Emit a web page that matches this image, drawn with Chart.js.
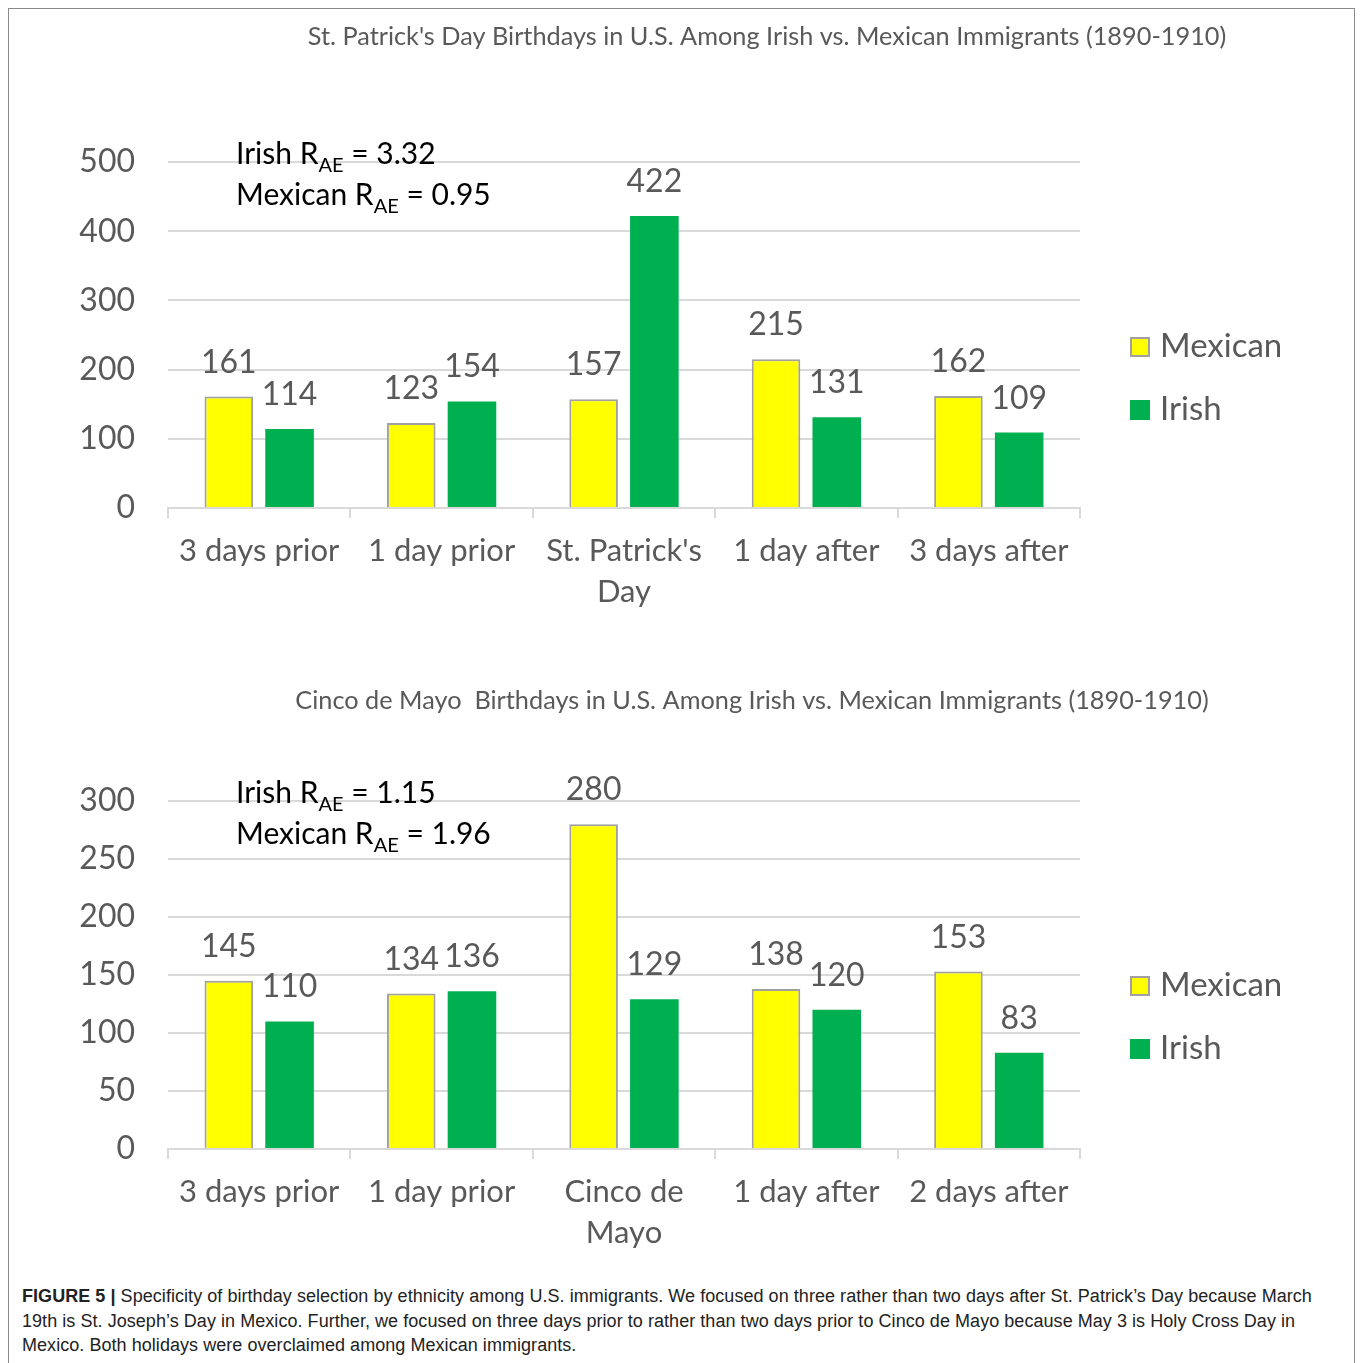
<!DOCTYPE html>
<html>
<head>
<meta charset="utf-8">
<script src="https://cdn.jsdelivr.net/npm/chart.js@4.4.1/dist/chart.umd.min.js"></script>
<style>
  html, body { margin: 0; padding: 0; background: #fff; }
  body { width: 1360px; height: 1363px; position: relative; overflow: hidden; }
  .frame { position: absolute; left: 8px; top: 8px; width: 1347px; height: 1400px; border: 1.5px solid #8a8a8a; box-sizing: border-box; }
  .box { position: absolute; left: 0; width: 1360px; height: 640px; }
  .caption { position: absolute; left: 22px; top: 1284px; width: 1330px; white-space: nowrap; font-family: "Liberation Sans", Arial, sans-serif; font-size: 18px; line-height: 24.5px; color: #222; letter-spacing: 0.05px; }
  .caption b { font-weight: bold; }
</style>
</head>
<body>
<div class="frame"></div>
<div class="box" style="top:0"><canvas id="chart1"></canvas></div>
<div class="box" style="top:640px"><canvas id="chart2"></canvas></div>
<div class="caption"><b>FIGURE 5 |</b> Specificity of birthday selection by ethnicity among U.S. immigrants. We focused on three rather than two days after St. Patrick’s Day because March<br>19th is St. Joseph’s Day in Mexico. Further, we focused on three days prior to rather than two days prior to Cinco de Mayo because May 3 is Holy Cross Day in<br>Mexico. Both holidays were overclaimed among Mexican immigrants.</div>

<script>
// ---- data ----
const labels1 = ["3 days prior", "1 day prior", ["St. Patrick's", "Day"], "1 day after", "3 days after"];
const mexican1 = [161, 123, 157, 215, 162];
const irish1 = [114, 154, 422, 131, 109];

const labels2 = ["3 days prior", "1 day prior", ["Cinco de", "Mayo"], "1 day after", "2 days after"];
const mexican2 = [145, 134, 280, 138, 153];
const irish2 = [110, 136, 129, 120, 83];

const title1 = "St. Patrick's Day Birthdays in U.S. Among Irish vs. Mexican Immigrants (1890-1910)";
const title2 = "Cinco de Mayo  Birthdays in U.S. Among Irish vs. Mexican Immigrants (1890-1910)";
const rae1 = ["3.32", "0.95"];  // Irish, Mexican
const rae2 = ["1.15", "1.96"];

const YELLOW = "#ffff00";
const GREEN = "#00b050";
const TEXT = "#595959";
const GRID = "#d9d9d9";
const FONT = "Lato, 'Open Sans', sans-serif";

// draws title, value labels, R_AE notes and the legend
const extras = {
  id: "extras",
  afterDatasetsDraw(chart, args, opts) {
    const ctx = chart.ctx;
    const area = chart.chartArea;
    ctx.save();

    // value labels above bars
    ctx.font = "32px " + FONT;
    ctx.fillStyle = TEXT;
    ctx.textAlign = "center";
    ctx.textBaseline = "alphabetic";
    chart.data.datasets.forEach((ds, i) => {
      chart.getDatasetMeta(i).data.forEach((bar, j) => {
        ctx.fillText(String(ds.data[j]), bar.x, bar.y - 24);
      });
    });

    // title
    ctx.font = "25.3px " + FONT;
    ctx.fillText(opts.title, opts.titleX, opts.titleY);

    // R_AE notes with subscript
    ctx.textAlign = "left";
    ctx.fillStyle = "#000";
    const note = (who, val, y) => {
      let x = 236;
      ctx.font = "30px " + FONT;
      ctx.fillText(who + " R", x, y);
      x += ctx.measureText(who + " R").width;
      ctx.font = "20px " + FONT;
      ctx.fillText("AE", x, y + 8);
      x += ctx.measureText("AE").width;
      ctx.font = "30px " + FONT;
      ctx.fillText(" = " + val, x, y);
    };
    note("Irish", opts.rae[0], area.top + 2);
    note("Mexican", opts.rae[1], area.top + 43);

    // legend
    const rows = [area.top + 195, area.top + 258];
    chart.data.datasets.forEach((ds, i) => {
      const y = rows[i];
      ctx.fillStyle = ds.backgroundColor;
      ctx.fillRect(1130, y - 20, 20, 20);
      if (ds.borderWidth) {
        ctx.strokeStyle = ds.borderColor;
        ctx.lineWidth = 2;
        ctx.strokeRect(1131, y - 19, 18, 18);
      }
      ctx.fillStyle = TEXT;
      ctx.font = "33px " + FONT;
      ctx.fillText(ds.label, 1160, y);
    });
    ctx.restore();
  }
};

function makeChart(id, labels, mexican, irish, yMax, yStep, top, extraOpts) {
  const ctx = document.getElementById(id).getContext("2d");
  return new Chart(ctx, {
    type: "bar",
    data: {
      labels: labels,
      datasets: [
        { label: "Mexican", data: mexican, backgroundColor: YELLOW, borderColor: "#a0a0a0", borderWidth: 2 },
        { label: "Irish", data: irish, backgroundColor: GREEN, borderWidth: 0 }
      ]
    },
    options: {
      responsive: true,
      maintainAspectRatio: false,
      animation: false,
      datasets: { bar: { categoryPercentage: 0.666, barPercentage: 0.8 } },
      layout: { padding: { top: top, right: 280, left: 0, bottom: 0 } },
      plugins: {
        legend: { display: false },
        tooltip: { enabled: false },
        extras: extraOpts
      },
      scales: {
        x: {
          grid: { offset: true, drawOnChartArea: false, drawTicks: true, tickLength: 10, color: GRID, lineWidth: 2 },
          border: { display: true, color: GRID, width: 2 },
          ticks: { color: TEXT, font: { family: FONT, size: 31, lineHeight: 1.32 }, padding: 13, maxRotation: 0 },
          afterFit(scale) { scale.height = 640 - 508 + (top - 162); }
        },
        y: {
          min: 0,
          max: yMax,
          ticks: { stepSize: yStep, color: TEXT, font: { family: FONT, size: 32 }, padding: 33 },
          grid: { drawTicks: false, color: GRID, lineWidth: 2 },
          border: { display: false },
          afterFit(scale) { scale.width = 168; }
        }
      }
    },
    plugins: [extras]
  });
}

makeChart("chart1", labels1, mexican1, irish1, 500, 100, 162,
  { title: title1, titleX: 767, titleY: 45, rae: rae1 });
makeChart("chart2", labels2, mexican2, irish2, 300, 50, 161,
  { title: title2, titleX: 752, titleY: 709 - 640, rae: rae2 });
</script>
</body>
</html>
